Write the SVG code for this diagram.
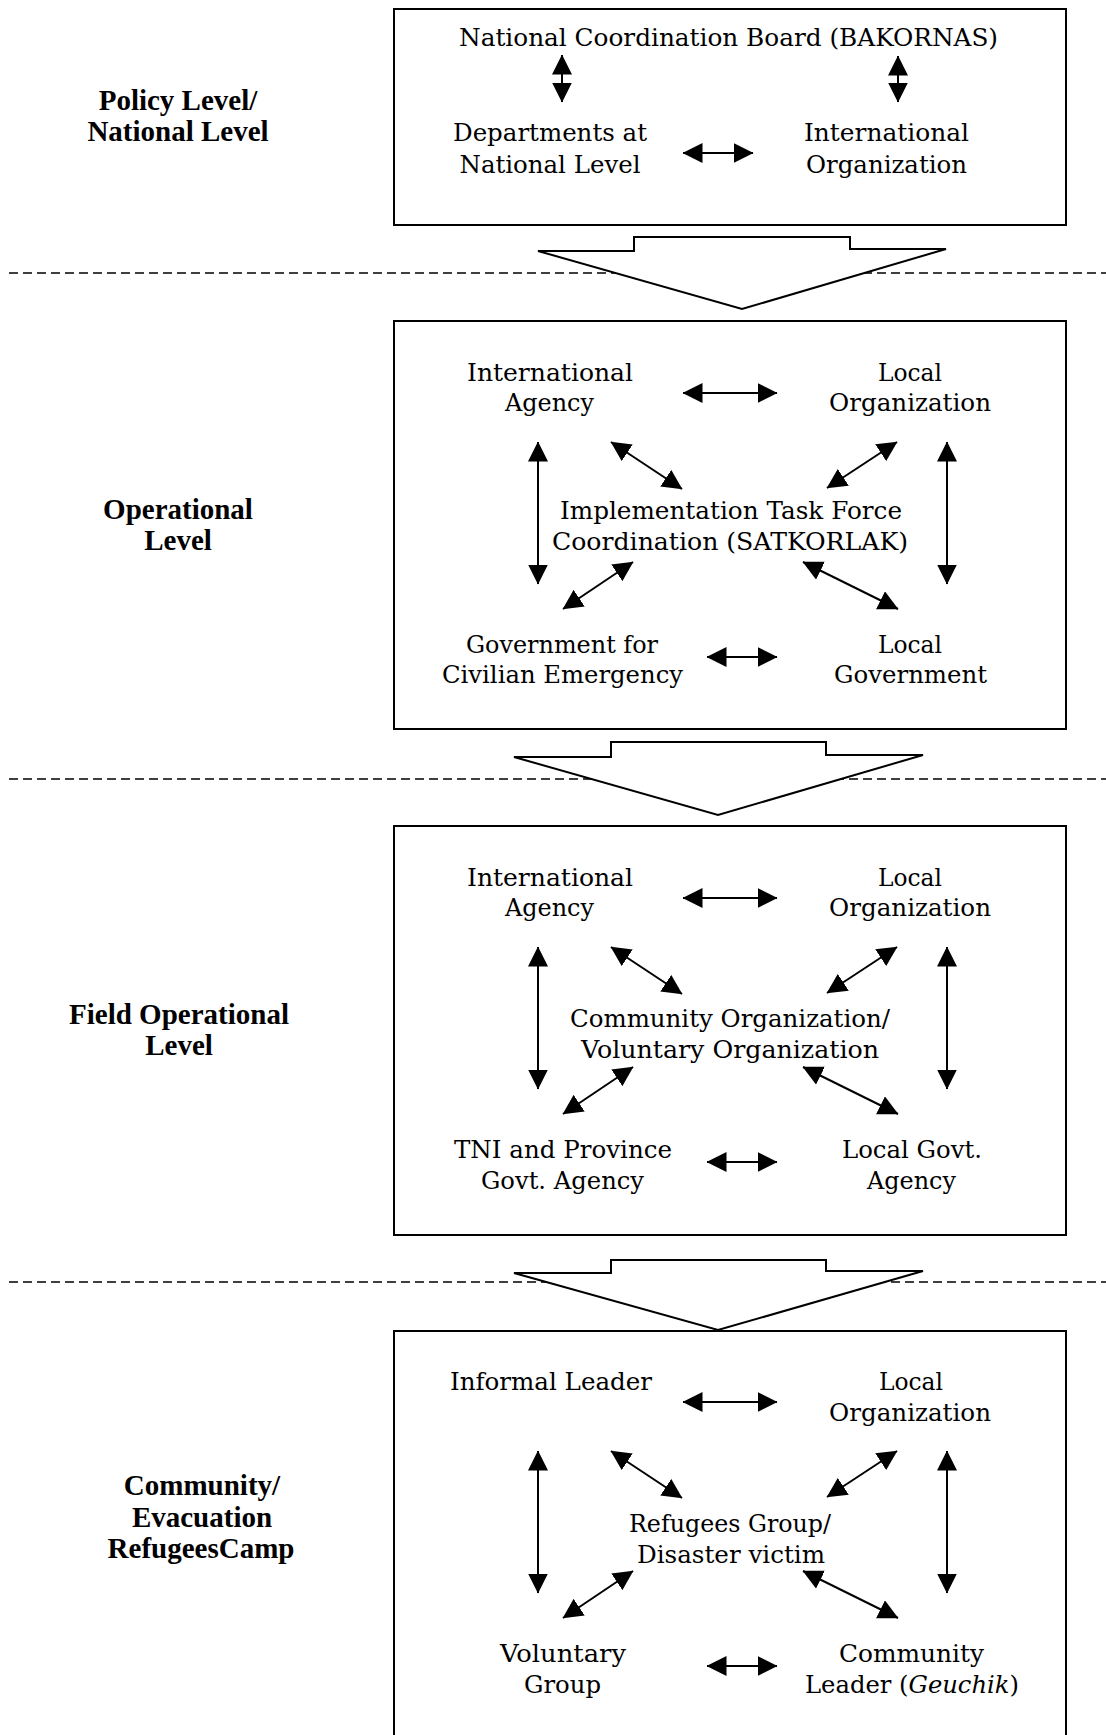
<svg xmlns="http://www.w3.org/2000/svg" width="1106" height="1735" viewBox="0 0 1106 1735">
<style>
.t{font-family:"DejaVu Serif","Liberation Serif",serif;font-size:24px;text-anchor:middle;fill:#000;lengthAdjust:spacingAndGlyphs}
.lbl{font-family:"Liberation Serif","DejaVu Serif",serif;font-weight:bold;font-size:29px;text-anchor:middle;fill:#000}
.box{fill:none;stroke:#000;stroke-width:2}
.dash{stroke:#000;stroke-width:1.6;stroke-dasharray:9 5;fill:none}
.blk{fill:#fff;stroke:#000;stroke-width:2;stroke-linejoin:miter}
.c{stroke:#000;stroke-width:2;fill:none;marker-start:url(#ah);marker-end:url(#ah)}
</style>
<defs>
<marker id="ah" viewBox="0 0 20 20" refX="19.5" refY="10" markerWidth="20" markerHeight="20" markerUnits="userSpaceOnUse" orient="auto-start-reverse">
<path d="M0,0 L20,10 L0,20 Z" fill="#000"/>
</marker>
</defs>
<rect width="1106" height="1735" fill="#fff"/>

<g id="separators">
<line class="dash" x1="9" y1="273" x2="1106" y2="273"/>
<line class="dash" x1="9" y1="779" x2="1106" y2="779"/>
<line class="dash" x1="9" y1="1282" x2="1106" y2="1282"/>
</g>

<g id="flow-arrows">
<path id="flow1" class="blk" d="M538,251 L634,251 L634,237 L850,237 L850,249 L946,249 L742,309 Z"/>
<path id="flow2" class="blk" d="M514,757 L611,757 L611,742 L826,742 L826,755 L923,755 L718,815 Z"/>
<path id="flow3" class="blk" d="M514,1273 L611,1273 L611,1260 L826,1260 L826,1271 L923,1271 L718,1330 Z"/>
</g>

<g id="level-labels">
<g id="lbl-policy"><text class="lbl" x="178" y="110">Policy Level/</text><text class="lbl" x="178" y="141">National Level</text></g>
<g id="lbl-operational"><text class="lbl" x="178" y="519">Operational</text><text class="lbl" x="178" y="550">Level</text></g>
<g id="lbl-field"><text class="lbl" x="179" y="1024">Field Operational</text><text class="lbl" x="179" y="1055">Level</text></g>
<g id="lbl-community"><text class="lbl" x="202" y="1495">Community/</text><text class="lbl" x="202" y="1527">Evacuation</text><text class="lbl" x="201" y="1558">RefugeesCamp</text></g>
</g>

<g id="box-policy">
<rect class="box" x="394" y="9" width="672" height="216"/>
<g id="n-bakornas"><text class="t" x="728.5" y="46" textLength="539" lengthAdjust="spacingAndGlyphs">National Coordination Board (BAKORNAS)</text></g>
<g id="n-departments"><text class="t" x="550" y="141" textLength="194" lengthAdjust="spacingAndGlyphs">Departments at</text><text class="t" x="550" y="173" textLength="181" lengthAdjust="spacingAndGlyphs">National Level</text></g>
<g id="n-intl-org"><text class="t" x="886.5" y="141" textLength="165" lengthAdjust="spacingAndGlyphs">International</text><text class="t" x="886.5" y="173" textLength="161" lengthAdjust="spacingAndGlyphs">Organization</text></g>
</g>

<g id="box-operational">
<rect class="box" x="394" y="321" width="672" height="408"/>
<g id="n-op-intl"><text class="t" x="550" y="381" textLength="166" lengthAdjust="spacingAndGlyphs">International</text><text class="t" x="549.5" y="411" textLength="89" lengthAdjust="spacingAndGlyphs">Agency</text></g>
<g id="n-op-localorg"><text class="t" x="910" y="381" textLength="64" lengthAdjust="spacingAndGlyphs">Local</text><text class="t" x="910" y="411" textLength="162" lengthAdjust="spacingAndGlyphs">Organization</text></g>
<g id="n-satkorlak"><text class="t" x="731" y="519" textLength="342" lengthAdjust="spacingAndGlyphs">Implementation Task Force</text><text class="t" x="730" y="550" textLength="356" lengthAdjust="spacingAndGlyphs">Coordination (SATKORLAK)</text></g>
<g id="n-op-govciv"><text class="t" x="562" y="653" textLength="192" lengthAdjust="spacingAndGlyphs">Government for</text><text class="t" x="562.5" y="683" textLength="241" lengthAdjust="spacingAndGlyphs">Civilian Emergency</text></g>
<g id="n-op-localgov"><text class="t" x="910" y="653" textLength="64" lengthAdjust="spacingAndGlyphs">Local</text><text class="t" x="910.5" y="683" textLength="153" lengthAdjust="spacingAndGlyphs">Government</text></g>
</g>

<g id="box-field">
<rect class="box" x="394" y="826" width="672" height="409"/>
<g id="n-f-intl"><text class="t" x="550" y="886" textLength="166" lengthAdjust="spacingAndGlyphs">International</text><text class="t" x="549.5" y="916" textLength="89" lengthAdjust="spacingAndGlyphs">Agency</text></g>
<g id="n-f-localorg"><text class="t" x="910" y="886" textLength="64" lengthAdjust="spacingAndGlyphs">Local</text><text class="t" x="910" y="916" textLength="162" lengthAdjust="spacingAndGlyphs">Organization</text></g>
<g id="n-f-community"><text class="t" x="730" y="1027" textLength="320" lengthAdjust="spacingAndGlyphs">Community Organization/</text><text class="t" x="730" y="1058" textLength="298" lengthAdjust="spacingAndGlyphs">Voluntary Organization</text></g>
<g id="n-f-tni"><text class="t" x="563" y="1158" textLength="218" lengthAdjust="spacingAndGlyphs">TNI and Province</text><text class="t" x="562.5" y="1189" textLength="163" lengthAdjust="spacingAndGlyphs">Govt. Agency</text></g>
<g id="n-f-localgovt"><text class="t" x="912" y="1158" textLength="140" lengthAdjust="spacingAndGlyphs">Local Govt.</text><text class="t" x="911.5" y="1189" textLength="89" lengthAdjust="spacingAndGlyphs">Agency</text></g>
</g>

<g id="box-community">
<rect class="box" x="394" y="1331" width="672" height="450"/>
<g id="n-c-informal"><text class="t" x="551" y="1390" textLength="202" lengthAdjust="spacingAndGlyphs">Informal Leader</text></g>
<g id="n-c-localorg"><text class="t" x="911" y="1390" textLength="64" lengthAdjust="spacingAndGlyphs">Local</text><text class="t" x="910" y="1421" textLength="162" lengthAdjust="spacingAndGlyphs">Organization</text></g>
<g id="n-c-refugees"><text class="t" x="730" y="1532" textLength="202" lengthAdjust="spacingAndGlyphs">Refugees Group/</text><text class="t" x="731" y="1563" textLength="188" lengthAdjust="spacingAndGlyphs">Disaster victim</text></g>
<g id="n-c-voluntary"><text class="t" x="563" y="1662" textLength="126" lengthAdjust="spacingAndGlyphs">Voluntary</text><text class="t" x="562.5" y="1693" textLength="77" lengthAdjust="spacingAndGlyphs">Group</text></g>
<g id="n-c-leader"><text class="t" x="911.5" y="1662" textLength="145" lengthAdjust="spacingAndGlyphs">Community</text><text class="t" x="912" y="1693" textLength="214" lengthAdjust="spacingAndGlyphs">Leader (<tspan font-style="italic">Geuchik</tspan>)</text></g>
</g>

<g id="connectors">
<line class="c" x1="562" y1="55" x2="562" y2="102"/>
<line class="c" x1="898" y1="56" x2="898" y2="102"/>
<line class="c" x1="683" y1="153" x2="753" y2="153"/>

<line class="c" x1="683" y1="393" x2="777" y2="393"/>
<line class="c" x1="707" y1="657" x2="777" y2="657"/>
<line class="c" x1="538" y1="442" x2="538" y2="584"/>
<line class="c" x1="947" y1="442" x2="947" y2="584"/>
<line class="c" x1="611" y1="442" x2="682" y2="489"/>
<line class="c" x1="897" y1="442" x2="827" y2="488"/>
<line class="c" x1="633" y1="562" x2="563" y2="609"/>
<line class="c" x1="803" y1="562" x2="898" y2="609"/>

<line class="c" x1="683" y1="898" x2="777" y2="898"/>
<line class="c" x1="707" y1="1162" x2="777" y2="1162"/>
<line class="c" x1="538" y1="947" x2="538" y2="1089"/>
<line class="c" x1="947" y1="947" x2="947" y2="1089"/>
<line class="c" x1="611" y1="947" x2="682" y2="994"/>
<line class="c" x1="897" y1="947" x2="827" y2="993"/>
<line class="c" x1="633" y1="1067" x2="563" y2="1114"/>
<line class="c" x1="803" y1="1067" x2="898" y2="1114"/>

<line class="c" x1="683" y1="1402" x2="777" y2="1402"/>
<line class="c" x1="707" y1="1666" x2="777" y2="1666"/>
<line class="c" x1="538" y1="1451" x2="538" y2="1593"/>
<line class="c" x1="947" y1="1451" x2="947" y2="1593"/>
<line class="c" x1="611" y1="1451" x2="682" y2="1498"/>
<line class="c" x1="897" y1="1451" x2="827" y2="1497"/>
<line class="c" x1="633" y1="1571" x2="563" y2="1618"/>
<line class="c" x1="803" y1="1571" x2="898" y2="1618"/>
</g>
</svg>
